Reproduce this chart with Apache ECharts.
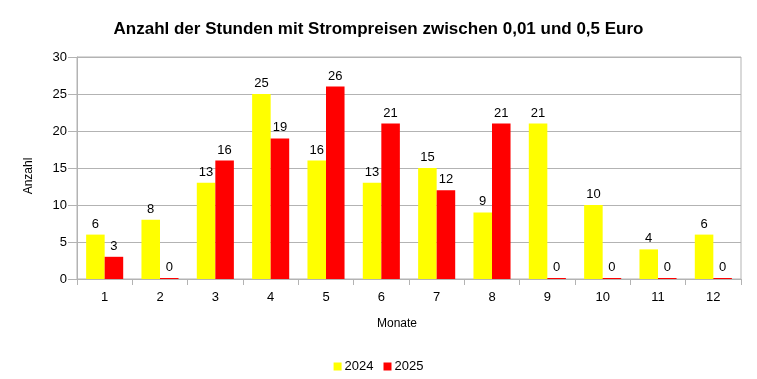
<!DOCTYPE html>
<html><head><meta charset="utf-8">
<script src="https://cdn.jsdelivr.net/npm/echarts@6/dist/echarts.min.js"></script>
<style>html,body{margin:0;padding:0;background:#fff}#c{width:757px;height:379px}</style>
</head><body><div id="c"></div>
<script>
var months = ['1','2','3','4','5','6','7','8','9','10','11','12'];
var values2024 = [6,8,13,25,16,13,15,9,21,10,4,6];
var values2025 = [3,0,16,19,26,21,12,21,0,0,0,0];
var seriesNames = ['2024','2025'];
var titleText = 'Anzahl der Stunden mit Strompreisen zwischen 0,01 und 0,5 Euro';

var chart = echarts.init(document.getElementById('c'), null, {renderer:'canvas'});
var font = 'Liberation Sans';
var lbl = {show:true, position:'top', color:'#000', fontSize:13, fontFamily:font, distance:4};
chart.setOption({
  animation:false,
  backgroundColor:'#fff',
  title:{text:titleText, left:'center', top:16, textStyle:{fontFamily:font, fontSize:17, fontWeight:'bold', color:'#000'}},
  legend:{bottom:1, left:'center', itemWidth:8, itemHeight:8, itemGap:10, icon:'rect',
    textStyle:{fontFamily:font, fontSize:13, color:'#000', padding:[0,0,0,-2]}, data:seriesNames},
  grid:{left:77, right:16, top:57, bottom:100, containLabel:false, show:true, borderColor:'#b3b3b3', borderWidth:1},
  xAxis:{type:'category', data:months, name:'Monate', nameLocation:'middle', nameGap:39,
    nameTextStyle:{fontFamily:font, fontSize:12, color:'#000', padding:[0,24,0,0]},
    axisLine:{lineStyle:{color:'#b3b3b3'}}, axisTick:{show:true, length:6, lineStyle:{color:'#b3b3b3'}},
    axisLabel:{fontFamily:font, fontSize:13, color:'#000', margin:12}},
  yAxis:{type:'value', min:0, max:30, interval:5, name:'Anzahl', nameLocation:'middle', nameGap:42, nameRotate:90,
    nameTextStyle:{fontFamily:font, fontSize:12, color:'#000', padding:[0,16,0,0]},
    axisLine:{show:true, lineStyle:{color:'#b3b3b3'}}, axisTick:{show:true, length:9, lineStyle:{color:'#b3b3b3'}},
    splitLine:{lineStyle:{color:'#b3b3b3'}},
    axisLabel:{fontFamily:font, fontSize:13, color:'#000', margin:10}},
  series:[
    {name:seriesNames[0], type:'bar', data:values2024, itemStyle:{color:'#ffff00'}, barGap:'0%', barCategoryGap:'33%', label:lbl},
    {name:seriesNames[1], type:'bar', data:values2025, itemStyle:{color:'#ff0000'}, barMinHeight:1, label:lbl}
  ]
});
</script></body></html>
